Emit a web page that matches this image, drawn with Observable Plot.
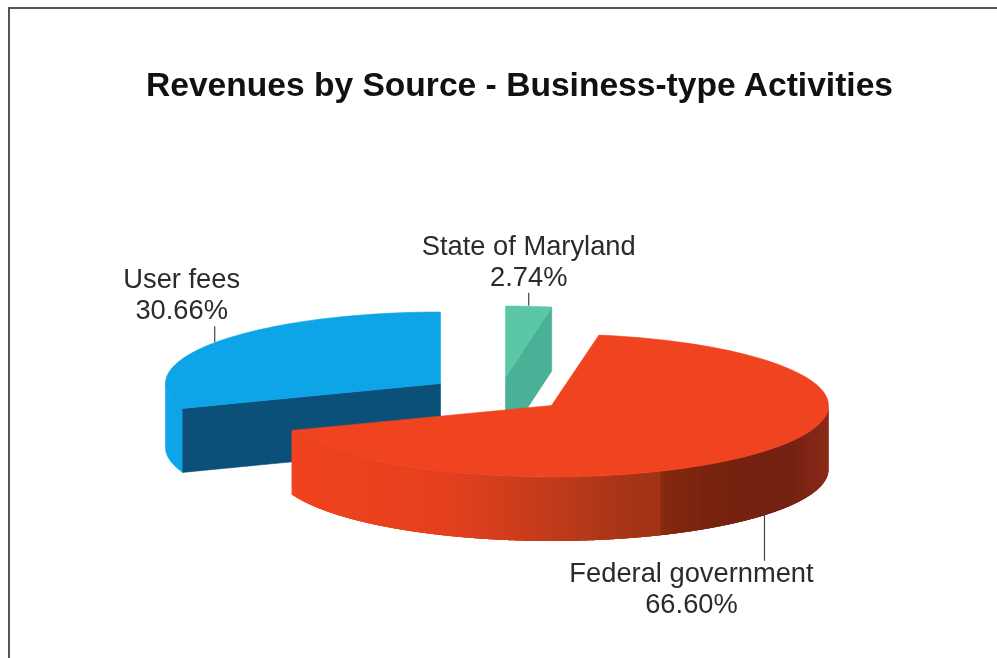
<!DOCTYPE html>
<html>
<head>
<meta charset="utf-8">
<script src="https://cdn.jsdelivr.net/npm/d3@7"></script>
<script src="https://cdn.jsdelivr.net/npm/@observablehq/plot@0.6"></script>
<style>
html,body{margin:0;padding:0;background:#fff;overflow:hidden}
svg{display:block;filter:blur(0.7px)}
</style>
</head>
<body>
<div id="chart"></div>
<script>
// Data, clockwise from north
const titleText = "Revenues by Source - Business-type Activities";
const sources = ["State of Maryland", "Federal government", "User fees"];
const shares = [2.74, 66.60, 30.66];

// Look of the pie
const surfaceColors = ["#5ac8a6", "#f0431f", "#0ea5e8"];
const faceColors = ["#49b195", null, "#0a5079"];
const wallX = [291, 450, 540, 620, 661, 663, 720, 790, 828];
const wallColors = ["#f0431f", "#e4401e", "#c63c1b", "#a93518", "#a03216", "#85290f", "#76220f", "#742212", "#8c2a1a"];

// Pie layout: each slice has its own exploded centre
const centreX = [505, 551, 440];
const centreY = [377, 405, 383];
const radiiX = [270, 277, 275];
const radiusY = 71.5, depth = 64;
const leaderLength = [13, 46, 16];
const labelDX = [0, -73, -33];
const labelDY = [-33, 26, -33];

const rad = d => d * Math.PI / 180;
let cum = 0;
const slices = sources.map((name, i) => {
  const a0 = cum / 100 * 360; cum += shares[i];
  return {name, share: shares[i], a0, a1: cum / 100 * 360, i};
});
const at = (s, a, z = 0) => ({
  x: centreX[s.i] + radiiX[s.i] * Math.sin(rad(a)),
  y: centreY[s.i] - radiusY * Math.cos(rad(a)) + z
});
const arc = (s, a0, a1, z = 0) => d3.range(0, 81).map(k => at(s, a0 + (a1 - a0) * k / 80, z));
const apex = (s, z = 0) => ({x: centreX[s.i], y: centreY[s.i] + z});
const close = p => [...p, p[0]];
const poly = (p, c) => Plot.line(close(p), {x: "x", y: "y", fill: c, stroke: c, strokeWidth: 0.6, curve: "linear"});

const surface = s => poly([apex(s), ...arc(s, s.a0, s.a1)], surfaceColors[s.i]);
const [green, red, blue] = slices;

// Blue: outer wall behind the cut face, then cut face, then top
const blueOuter = poly([...arc(blue, blue.a0, 270), ...arc(blue, 270, blue.a0, depth)], surfaceColors[2]);
const blueFace = poly([apex(blue), at(blue, blue.a0), at(blue, blue.a0, depth), apex(blue, depth)], faceColors[2]);
// Green: cut face at its clockwise edge
const greenFace = poly([apex(green), at(green, green.a1), at(green, green.a1, depth), apex(green, depth)], faceColors[0]);

// Red outer wall: overlapping thin quads shaded along the arc, so no seams show
const wallColor = d3.scaleLinear().domain(wallX).range(wallColors).clamp(true);
const wallPts = [];
const N = 220;
d3.range(N).forEach(k => {
  const a = 90 + (red.a1 - 90) * k / N;
  const b = 90 + (red.a1 - 90) * Math.min(k + 3, N) / N;
  const c = wallColor(at(red, a).x);
  [...arc(red, a, b), ...arc(red, b, a, depth)]
    .forEach(p => wallPts.push({...p, seg: k, c}));
});
const redWall = Plot.line(wallPts, {x: "x", y: "y", z: "seg", fill: "c", curve: "linear", stroke: null});

// Leaders and labels start from the mid-angle of each slice
const anchors = slices.map(s => {
  const mid = (s.a0 + s.a1) / 2;
  const front = Math.cos(rad(mid)) < 0;
  const p = at(s, mid, front ? depth : 0);
  const y2 = p.y + (front ? 1 : -1) * leaderLength[s.i];
  return {
    x: p.x, y1: p.y, y2,
    lx: p.x + labelDX[s.i], ly: y2 + labelDY[s.i],
    text: s.name + "\n" + s.share.toFixed(2) + "%"
  };
});

const chart = Plot.plot({
  width: 997, height: 658,
  margin: 0,
  style: {background: "transparent", overflow: "hidden"},
  x: {domain: [0, 997], range: [0, 997], axis: null},
  y: {domain: [0, 658], range: [0, 658], axis: null},
  color: {type: "identity"},
  marks: [
    Plot.ruleY([7.5], {x1: 8, x2: 997, stroke: "#555", strokeWidth: 2}),
    Plot.ruleX([8.5], {y1: 7, y2: 658, stroke: "#555", strokeWidth: 2}),
    Plot.ruleX(anchors, {x: "x", y1: "y1", y2: "y2", stroke: "#444", strokeWidth: 1.2}),
    blueOuter, blueFace, surface(blue),
    greenFace, surface(green),
    redWall, surface(red),
    Plot.text(anchors, {
      x: "lx", y: "ly", text: "text", textAnchor: "middle", lineHeight: 1.14,
      fontFamily: "Liberation Sans", fontSize: 27.3, fill: "#2b2b2b"
    }),
    Plot.text([titleText], {
      x: () => 519, y: () => 85, text: d => d, textAnchor: "middle",
      fontFamily: "Liberation Sans", fontWeight: "bold", fontSize: 33.6, fill: "#111"
    })
  ]
});
document.getElementById("chart").appendChild(chart);
</script>
</body>
</html>
